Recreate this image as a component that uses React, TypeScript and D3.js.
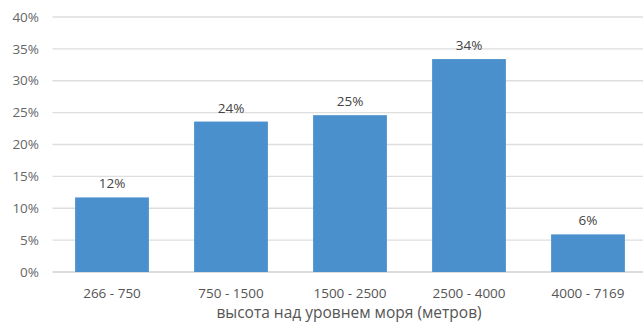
import React from "react";
import * as d3 from "d3";

const categories = ["266 - 750", "750 - 1500", "1500 - 2500", "2500 - 4000", "4000 - 7169"];
const values = [11.7, 23.6, 24.6, 33.4, 5.9];
const labels = ["12%", "24%", "25%", "34%", "6%"];
const yTicks = [0, 5, 10, 15, 20, 25, 30, 35, 40];
const axisTitle = "высота над уровнем моря (метров)";

export default function App() {
  const W = 643, H = 322;
  const left = 52.5, right = 647.5, top = 17, bottom = 272;
  const x = d3.scaleBand<string>().domain(categories).range([left, right]).paddingInner(0.38).paddingOuter(0.19);
  const y = d3.scaleLinear().domain([0, 40]).range([bottom, top]);
  const font = "'Open Sans', 'Liberation Sans', sans-serif";
  return (
    <svg width={W} height={H} style={{ position: "absolute", left: 0, top: 0, background: "#fff" }}>
      {yTicks.map((t) => (
        <g key={t}>
          <line x1={left} x2={W} y1={y(t)} y2={y(t)} stroke={t === 0 ? "#d0d0d0" : "#dedede"} strokeWidth={1.3} />
          <text x={39} y={y(t)} dy="0.35em" textAnchor="end" fontSize={13.5} fill="#666" fontFamily={font}>
            {t}%
          </text>
        </g>
      ))}
      {categories.map((c, i) => (
        <g key={c}>
          <rect x={x(c)} y={y(values[i])} width={x.bandwidth()} height={bottom - y(values[i])} fill="#4a90cd" />
          <text x={(x(c) as number) + x.bandwidth() / 2} y={y(values[i]) - 9} textAnchor="middle" fontSize={13.5} fill="#444" fontFamily={font}>
            {labels[i]}
          </text>
          <text x={(x(c) as number) + x.bandwidth() / 2} y={298} textAnchor="middle" fontSize={13.5} fill="#555" fontFamily={font}>
            {c}
          </text>
        </g>
      ))}
      <text x={349} y={318} textAnchor="middle" fontSize={15.5} fill="#555" fontFamily={font}>
        {axisTitle}
      </text>
    </svg>
  );
}
